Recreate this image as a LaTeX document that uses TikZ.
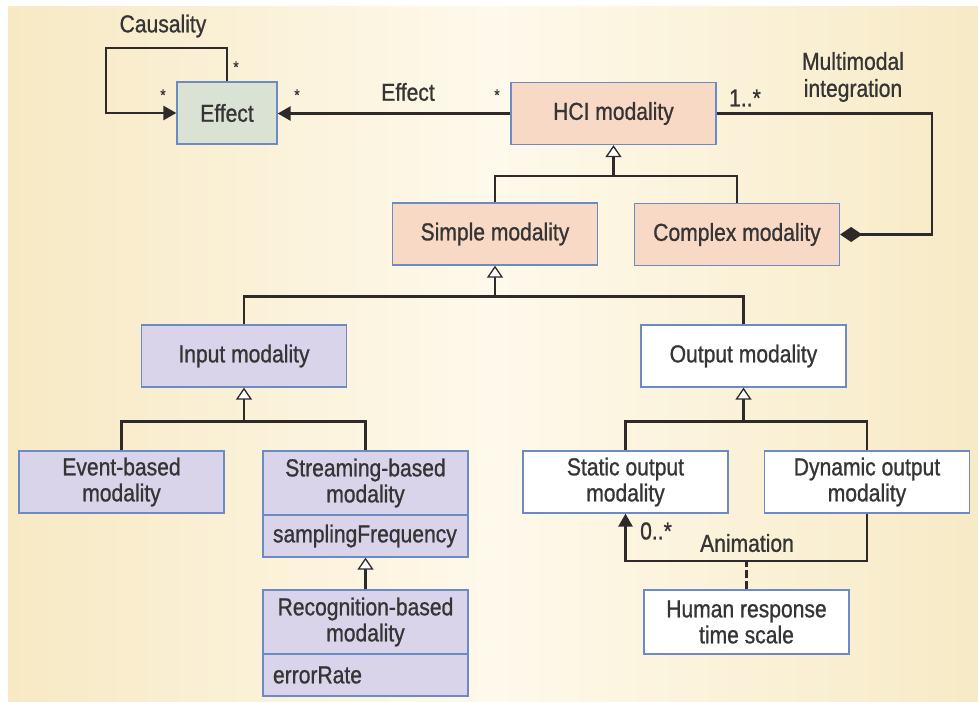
\documentclass[tikz,border=0pt]{standalone}
\usepackage{fontspec}
\setmainfont{Liberation Sans}[FakeStretch=0.86, FakeBold=0.9]
\usetikzlibrary{arrows.meta}

\definecolor{bgedge}{HTML}{F7E9C4}
\definecolor{bgmid}{HTML}{FEF9EB}
\definecolor{bgright}{HTML}{F7EAC6}
\definecolor{boxline}{HTML}{6C8AC4}
\definecolor{ink}{HTML}{363434}
\definecolor{wire}{HTML}{2E2A2A}
\definecolor{fillgreen}{HTML}{D9E2D3}
\definecolor{fillpeach}{HTML}{F8D9C5}
\definecolor{filllav}{HTML}{DAD4EB}

\tikzset{
  box/.style={draw=boxline, line width=1.3pt, inner sep=0pt, align=center,
    text=ink, font=\fontsize{24.5}{26}\selectfont},
  wide/.style={minimum width=205pt, minimum height=62pt},
  attr/.style={box, minimum width=205pt, minimum height=42pt, text width=185pt, align=left},
  lbl/.style={text=ink, font=\fontsize{24.5}{27}\selectfont, inner sep=0pt, align=center},
  star/.style={text=ink, font=\fontsize{16}{16}\selectfont, inner sep=0pt},
  assoc/.style={draw=wire, line width=2.6pt},
  gen/.style={assoc, -{Triangle[fill=white, length=12pt, width=16pt, line width=1.3pt]}},
  nav/.style={assoc, -{Triangle[length=13pt, width=14pt]}},
}

\begin{document}
\begin{tikzpicture}[x=1pt, y=-1pt]
\useasboundingbox (0,0) rectangle (978,702);
% background: horizontal gradient built from thin vertical strips
\foreach \i in {0,...,96}{
  \pgfmathsetmacro{\tpos}{(\i+0.5)/97}
  \pgfmathsetmacro{\pct}{\tpos<0.5 ? 200*\tpos : 200*(1-\tpos)}
  \ifdim\tpos pt<0.5pt
    \colorlet{strip}{bgmid!\pct!bgedge}
  \else
    \colorlet{strip}{bgmid!\pct!bgright}
  \fi
  \fill[strip] (8+10*\i,6) rectangle (18.6+10*\i,702);
}

% classes
\node[box, fill=fillgreen, minimum width=100pt, minimum height=62pt] (effect) at (227,113) {Effect};
\node[box, fill=fillpeach, wide] (hci) at (613.5,113.5) {HCI modality};
\node[box, fill=fillpeach, wide] (simple) at (495,234) {Simple modality};
\node[box, fill=fillpeach, wide] (complex) at (737,234.5) {Complex modality};
\node[box, fill=filllav, wide] (input) at (244,356) {Input modality};
\node[box, fill=white, wide] (output) at (743.5,356) {Output modality};
\node[box, fill=filllav, wide] (event) at (121.5,482) {Event-based\\modality};
\node[box, fill=filllav, wide, minimum height=64pt] (stream) at (365.5,483) {Streaming-based\\modality};
\node[attr, fill=filllav] (streamattr) at (365.5,536) {samplingFrequency};
\node[box, fill=filllav, wide, minimum height=64pt] (recog) at (365.5,622) {Recognition-based\\modality};
\node[attr, fill=filllav] (recogattr) at (365.5,675) {errorRate};
\node[box, fill=white, wide] (static) at (625.5,482) {Static output\\modality};
\node[box, fill=white, wide] (dynamic) at (867,482) {Dynamic output\\modality};
\node[box, fill=white, wide, minimum height=64pt] (human) at (746.5,622) {Human response\\time scale};

% Effect association and causality loop
\draw[nav] (hci.west) -- (hci.west -| effect.east);
\coordinate (loop) at (106,48);
\draw[nav] (effect.north) -- (effect.north |- loop) -- (loop) -- (loop |- effect.west) -- (effect.west);
\node[lbl] (causal) at (163,26) {Causality};
\node[star] (s1) at (236,67) {*};
\node[star] (s2) at (163,95) {*};
\node[star] (s3) at (297,95) {*};
\node[star] (s4) at (497,95) {*};
\node[lbl] (efflbl) at (408,92) {Effect};

% multimodal integration (composition)
\coordinate (mm) at (932,0);
\draw[assoc, {Diamond[length=22pt, width=15pt]}-] (complex.east) -- (complex.east -| mm) -- (mm |- hci.east) -- (hci.east);
\node[lbl] (mult) at (745,98) {1..*};
\node[lbl] (mmlbl) at (853,77) {Multimodal\\integration};

% generalizations
\coordinate (j1) at ([yshift=-31pt]hci.south);
\draw[gen] (simple.north) |- (j1) -- (hci.south);
\draw[assoc] (complex.north) |- (j1);

\coordinate (j2) at ([yshift=-31pt]simple.south);
\draw[gen] (input.north) |- (j2) -- (simple.south);
\draw[assoc] (output.north) |- (j2);

\coordinate (j3) at ([yshift=-34pt]input.south);
\draw[gen] (event.north) |- (j3) -- (input.south);
\draw[assoc] (stream.north) |- (j3);

\coordinate (j4) at ([yshift=-34pt]output.south);
\draw[gen] (static.north) |- (j4) -- (output.south);
\draw[assoc] (dynamic.north) |- (j4);

\draw[gen] (recog.north) -- (streamattr.south);

% animation association with its association class
\coordinate (an) at (0,561);
\draw[nav] (dynamic.south) -- (dynamic.south |- an) -- (static.south |- an) -- (static.south);
\draw[assoc, dash pattern=on 8pt off 3pt] (human.north) -- (human.north |- an);
\node[lbl] (zero) at (656,531) {0..*};
\node[lbl] (anim) at (747,543) {Animation};
\end{tikzpicture}
\end{document}
